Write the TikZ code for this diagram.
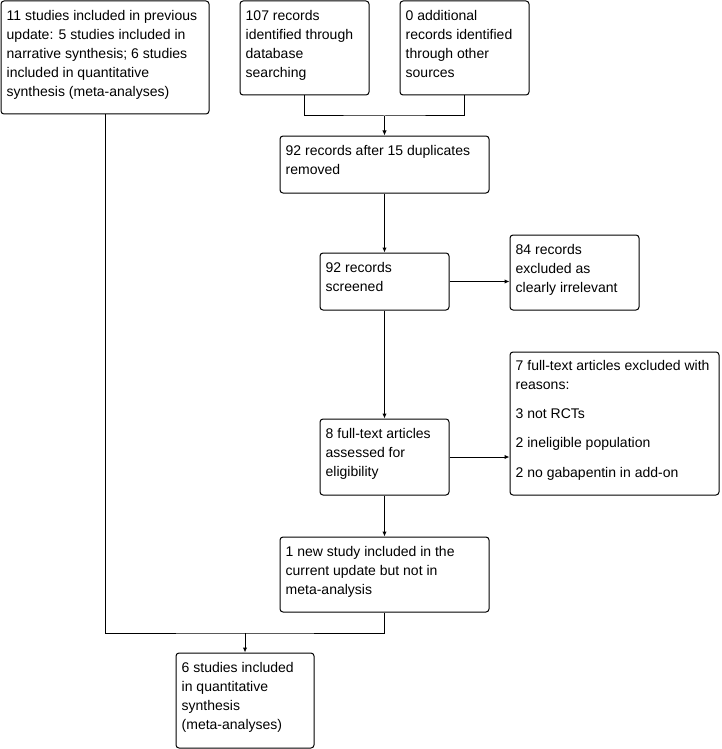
\documentclass[tikz,border=0pt]{standalone}
\usepackage{fontspec}
\setmainfont{Liberation Sans}
\usetikzlibrary{arrows.meta,calc}
\newcommand\topstrut{\rule{0pt}{13pt}}
\begin{document}
\begin{tikzpicture}[x=1pt,y=-1pt,
  box/.style={draw, line width=1pt, rounded corners=3pt, inner sep=0pt},
  txt/.style={anchor=north west, inner sep=0pt, align=left, font=\fontsize{14}{19}\selectfont},
  arr/.style={line width=1pt, -{Latex[length=5pt,width=4.5pt]}},
  ln/.style={line width=1pt}]
\useasboundingbox (0,0) rectangle (721,749);
% boxes
\node[box, minimum width=208, minimum height=113] (A) at (105,57.5) {};
\node[box, minimum width=129, minimum height=94] (B) at (304.5,48) {};
\node[box, minimum width=129, minimum height=94] (C) at (464.5,48) {};
\node[box, minimum width=209, minimum height=57] (D) at (384.5,164.5) {};
\node[box, minimum width=129, minimum height=57] (E) at (384.5,281.5) {};
\node[box, minimum width=129, minimum height=75] (F) at (574.5,272.5) {};
\node[box, minimum width=129, minimum height=76] (G) at (384.5,457) {};
\node[box, minimum width=209, minimum height=143] (H) at (614.5,423.5) {};
\node[box, minimum width=209, minimum height=75] (I) at (384.5,574.5) {};
\node[box, minimum width=138, minimum height=95] (J) at (245,700.5) {};
% texts
\node[txt] (tA) at ($(A.north west)+(6,6.5)$) {\topstrut 11 studies included in previous\\update: 5 studies included in\\narrative synthesis; 6 studies\\included in quantitative\\synthesis (meta-analyses)};
\node[txt] (tB) at ($(B.north west)+(6,6.5)$) {\topstrut 107 records\\identified through\\database\\searching};
\node[txt] (tC) at ($(C.north west)+(6,6.5)$) {\topstrut 0 additional\\records identified\\through other\\sources};
\node[txt] (tD) at ($(D.north west)+(6,6.5)$) {\topstrut 92 records after 15 duplicates\\removed};
\node[txt] (tE) at ($(E.north west)+(6,6.5)$) {\topstrut 92 records\\screened};
\node[txt] (tF) at ($(F.north west)+(6,6.5)$) {\topstrut 84 records\\excluded as\\clearly irrelevant};
\node[txt] (tG) at ($(G.north west)+(6,6.5)$) {\topstrut 8 full-text articles\\assessed for\\eligibility};
\node[txt] (tH) at ($(H.north west)+(6,5.5)$) {\topstrut 7 full-text articles excluded with\\reasons:\\[10pt]3 not RCTs\\[10pt]2 ineligible population\\[11pt]2 no gabapentin in add-on};
\node[txt] (tI) at ($(I.north west)+(6,6.5)$) {\topstrut 1 new study included in the\\current update but not in\\meta-analysis};
\node[txt] (tJ) at ($(J.north west)+(6,6.5)$) {\topstrut 6 studies included\\in quantitative\\synthesis\\(meta-analyses)};
% connectors
\coordinate (m1) at (384.5,116);
\draw[ln] (B.south) |- (m1) -| (C.south);
\draw[arr] (m1) -- (D.north);
\draw[arr] (D.south) -- (E.north);
\draw[arr] (E.east) -- (E.east -| F.west);
\draw[arr] (E.south) -- (G.north);
\draw[arr] (G.east) -- (G.east -| H.west);
\draw[arr] (G.south) -- (I.north);
\coordinate (m2) at (245,633);
\draw[ln] (A.south) |- (m2) -| (I.south);
\draw[arr] (m2) -- (J.north);
\end{tikzpicture}
\end{document}
